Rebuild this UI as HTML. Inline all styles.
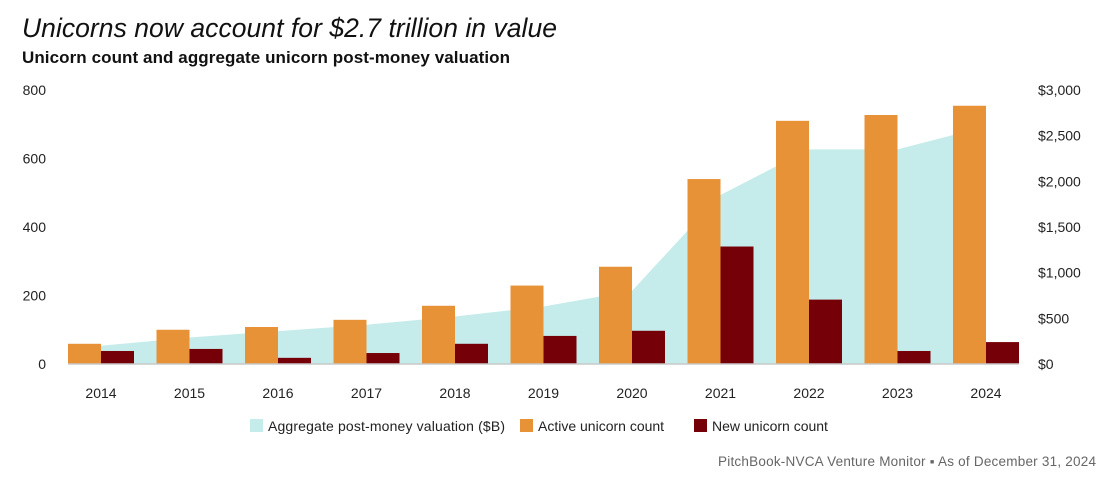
<!DOCTYPE html>
<html><head><meta charset="utf-8"><style>
body{margin:0;background:#fff;width:1116px;height:484px;overflow:hidden;font-family:"Liberation Sans",sans-serif;}
svg text{font-family:"Liberation Sans",sans-serif;}
</style></head><body>
<svg id="chart" width="1116" height="484" xmlns="http://www.w3.org/2000/svg">
<text x="22" y="37" font-size="26.5" font-style="italic" fill="#111" textLength="535">Unicorns now account for $2.7 trillion in value</text>
<text x="22" y="63" font-size="17" font-weight="bold" fill="#111" textLength="488">Unicorn count and aggregate unicorn post-money valuation</text>
<g id="plot"></g>
<g>
<rect x="250" y="419" width="13" height="13" fill="#c5ecea"/>
<text x="268" y="431" font-size="14" fill="#222" textLength="237">Aggregate post-money valuation ($B)</text>
<rect x="520" y="419" width="13" height="13" fill="#e89238"/>
<text x="538" y="431" font-size="14" fill="#222">Active unicorn count</text>
<rect x="694" y="419" width="13" height="13" fill="#750008"/>
<text x="712" y="431" font-size="14" fill="#222">New unicorn count</text>
</g>
<text x="1096" y="466" text-anchor="end" font-size="13.5" fill="#666" textLength="378">PitchBook-NVCA Venture Monitor  ▪  As of December 31, 2024</text>
</svg>
<script>
const categories=["2014","2015","2016","2017","2018","2019","2020","2021","2022","2023","2024"];
const activeCount=[59,100,108,129,170,229,284,540,710,727,754];
const newCount=[38,44,18,32,59,82,97,343,188,38,64];
const valuation=[200,290,360,430,520,630,800,1850,2350,2350,2600];
const leftTicks=[0,200,400,600,800];
const rightTicks=[0,500,1000,1500,2000,2500,3000];
const rightTickLabels=["$0","$500","$1,000","$1,500","$2,000","$2,500","$3,000"];

const NS="http://www.w3.org/2000/svg";
const g=document.getElementById('plot');
const y0=364, yTop=90, barW=33, step=88.5, x0=101;
const yL=v=>y0-(v/800)*(y0-yTop);
const yR=v=>y0-(v/3000)*(y0-yTop);
const xC=i=>x0+i*step;
function mk(t,a){const e=document.createElementNS(NS,t);for(const k in a)e.setAttribute(k,a[k]);g.appendChild(e);return e;}
let d=`M${xC(0)},${y0}`;
valuation.forEach((v,i)=>{d+=` L${xC(i)},${yR(v)}`;});
d+=` L${xC(valuation.length-1)},${y0} Z`;
const area=mk('path',{d:d,fill:'#c5ecea'});


categories.forEach((c,i)=>{
  const a=mk('rect',{x:xC(i)-barW,y:yL(activeCount[i]),width:barW,height:y0-yL(activeCount[i]),fill:'#e89238'});
  
  
  const n=mk('rect',{x:xC(i),y:yL(newCount[i]),width:barW,height:y0-yL(newCount[i]),fill:'#750008'});
  
  
  const t=mk('text',{x:xC(i),y:398,'text-anchor':'middle','font-size':'14',fill:'#222'});
  t.textContent=c;
  
  
});
const base=mk('line',{x1:68,x2:1019,y1:y0,y2:y0,stroke:'#c8c8c8','stroke-width':1.5});


leftTicks.forEach(v=>{
  const t=mk('text',{x:46,y:yL(v)+5,'text-anchor':'end','font-size':'14',fill:'#222'});
  t.textContent=v;
  
  
});
rightTicks.forEach((v,i)=>{
  const t=mk('text',{x:1038,y:yR(v)+5,'font-size':'14',fill:'#222'});
  t.textContent=rightTickLabels[i];
  
  
});
</script>
</body></html>
